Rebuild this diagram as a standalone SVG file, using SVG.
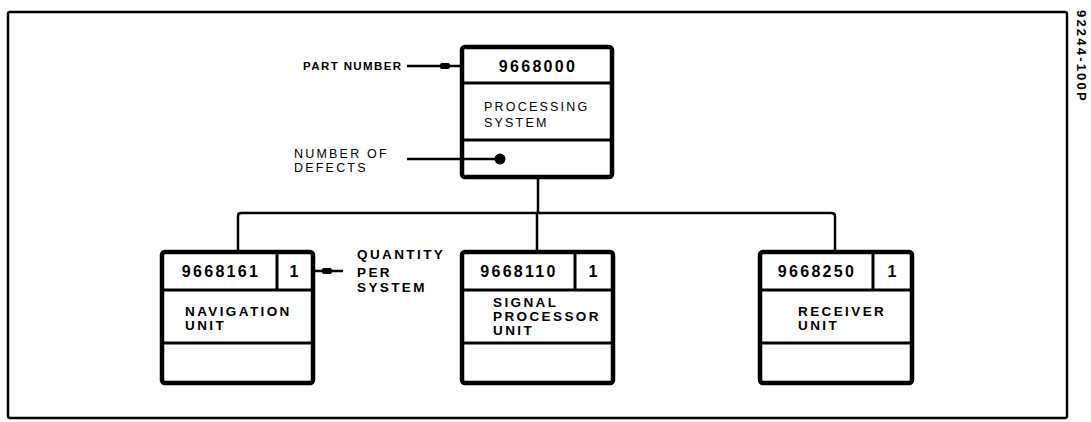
<svg xmlns="http://www.w3.org/2000/svg" width="1091" height="422" viewBox="0 0 1091 422">
<style>
.box{fill:#fff;stroke:#000;stroke-width:4.5}
.div{stroke:#000;stroke-width:3;fill:none}
.con{stroke:#000;stroke-width:2.5;fill:none}
.num{font-family:"Liberation Sans",Arial,sans-serif;font-weight:bold;font-size:16px;letter-spacing:2.3px;fill:#000}
.lbl{font-family:"Liberation Sans",Arial,sans-serif;font-weight:bold;font-size:11.5px;letter-spacing:1.4px;fill:#000}
.big{font-family:"Liberation Sans",Arial,sans-serif;font-weight:bold;font-size:13.5px;letter-spacing:2.4px;fill:#000}
.thin{font-family:"Liberation Sans",Arial,sans-serif;font-size:12.5px;letter-spacing:2.2px;fill:#000}
.side{font-family:"Liberation Sans",Arial,sans-serif;font-weight:bold;font-size:13px;letter-spacing:2.2px;fill:#000}
</style>
<rect width="1091" height="422" fill="#fff"/>
<rect x="8" y="12" width="1059" height="406" rx="2" fill="none" stroke="#000" stroke-width="2.5"/>
<text class="side" transform="translate(1077,10) rotate(90)">92244-100P</text>

<g id="labels">
<text class="lbl" x="303" y="70">PART NUMBER</text>
<text class="thin" x="294" y="158">NUMBER OF</text>
<text class="thin" x="294" y="172">DEFECTS</text>
<text class="big" x="357" y="259">QUANTITY</text>
<text class="big" x="357" y="277">PER</text>
<text class="big" x="357" y="292">SYSTEM</text>
</g>

<g id="processing-system">
<rect class="box" x="462" y="47" width="150" height="130" rx="3"/>
<path class="div" d="M462 83 H612 M462 140 H612"/>
<text class="num" x="538" y="72" text-anchor="middle">9668000</text>
<text class="thin" x="484" y="111">PROCESSING</text>
<text class="thin" x="484" y="127">SYSTEM</text>
</g>

<g id="navigation-unit">
<rect class="box" x="162" y="252" width="151" height="131" rx="3"/>
<path class="div" d="M162 290 H313 M162 343 H313 M277 252 V290"/>
<text class="num" x="221" y="277" text-anchor="middle">9668161</text>
<text class="num" x="295" y="277" text-anchor="middle">1</text>
<text class="big" x="185" y="316">NAVIGATION</text>
<text class="big" x="185" y="330">UNIT</text>
</g>

<g id="signal-processor-unit">
<rect class="box" x="462" y="252" width="151" height="131" rx="3"/>
<path class="div" d="M462 290 H613 M462 343 H613 M575 252 V290"/>
<text class="num" x="519" y="277" text-anchor="middle">9668110</text>
<text class="num" x="594" y="277" text-anchor="middle">1</text>
<text class="big" x="493" y="307">SIGNAL</text>
<text class="big" x="493" y="321">PROCESSOR</text>
<text class="big" x="493" y="335">UNIT</text>
</g>

<g id="receiver-unit">
<rect class="box" x="760" y="252" width="152" height="131" rx="3"/>
<path class="div" d="M760 290 H912 M760 343 H912 M873 252 V290"/>
<text class="num" x="817" y="277" text-anchor="middle">9668250</text>
<text class="num" x="893" y="277" text-anchor="middle">1</text>
<text class="big" x="798" y="316">RECEIVER</text>
<text class="big" x="798" y="330">UNIT</text>
</g>

<g id="connectors">
<path class="con" d="M538 179 V213 M238 250 V216 Q238 213 241 213 H831 Q835 213 835 216 V250 M537 213 V250"/>
<path class="con" d="M407 66 H460"/>
<rect x="440" y="63" width="10" height="6" rx="2"/>
<path class="con" d="M407 159 H500"/>
<circle cx="500" cy="159" r="5.5"/>
<path class="con" d="M315 271 H343"/>
<rect x="322" y="268" width="10" height="6" rx="2"/>
</g>
</svg>
